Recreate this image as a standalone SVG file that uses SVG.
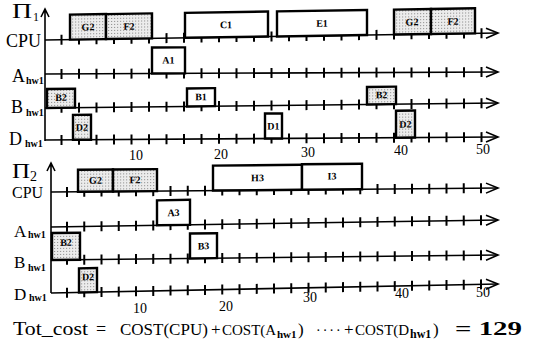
<svg xmlns="http://www.w3.org/2000/svg" xmlns:xlink="http://www.w3.org/1999/xlink" width="541" height="343" viewBox="0 0 541 343">
<style>
.ax{fill:none;stroke:#000;stroke-width:1.6}
.tk{fill:none;stroke:#000;stroke-width:2}
.bx{stroke:#000;stroke-width:2.4}
.w{fill:#fff}
.g{fill:url(#dots)}
.tl{font-family:"Liberation Serif",serif;font-size:10px;font-weight:bold;text-anchor:middle;fill:#000}
.lb{font-family:"Liberation Serif",serif;fill:#000}
.num{font-family:"Liberation Serif",serif;font-size:14px;text-anchor:middle;fill:#000}
.sub{font-family:"Liberation Serif",serif;font-size:10px;font-weight:bold;fill:#000}
</style>
<defs>
<pattern id="dots" width="3" height="3" patternUnits="userSpaceOnUse"><rect width="3" height="3" fill="#ececec"/><rect width="1" height="1" fill="#888"/></pattern>
<path id="t1" d="M61.5 -5v10M79 -5v10M96.5 -5v10M114 -5v10M131.5 -5v10M149 -5v10M166.5 -5v10M184 -5v10M201.5 -5v10M219 -5v10M236.5 -5v10M254 -5v10M271.5 -5v10M289 -5v10M306.5 -5v10M324 -5v10M341.5 -5v10M359 -5v10M376.5 -5v10M394 -5v10M411.5 -5v10M429 -5v10M446.5 -5v10M464 -5v10M481.5 -5v10"/>
<path id="t2" d="M67 -5v10M84.25 -5v10M101.5 -5v10M118.75 -5v10M136 -5v10M153.25 -5v10M170.5 -5v10M187.75 -5v10M205 -5v10M222.25 -5v10M239.5 -5v10M256.75 -5v10M274 -5v10M291.25 -5v10M308.5 -5v10M325.75 -5v10M343 -5v10M360.25 -5v10M377.5 -5v10M394.75 -5v10M412 -5v10M429.25 -5v10M446.5 -5v10M463.75 -5v10M481 -5v10"/>
<path id="ar" d="M486 -5L498 0L486 5"/>
</defs>
<rect width="541" height="343" fill="#fff"/>

<g id="axes">
<path class="ax" d="M45 141V9M41 17L45 9L49 17"/>
<path class="ax" d="M51 293V163M47 171L51 163L55 171"/>
<g transform="matrix(1 -0.0155 0 1 0 40.7)"><path class="ax" d="M45 0H498"/><use xlink:href="#t1" class="tk"/><use xlink:href="#ar" class="ax"/></g>
<g transform="matrix(1 -0.0044 0 1 0 74.2)"><path class="ax" d="M45 0H498"/><use xlink:href="#t1" class="tk"/><use xlink:href="#ar" class="ax"/></g>
<g transform="matrix(1 -0.011 0 1 0 108.5)"><path class="ax" d="M45 0H498"/><use xlink:href="#t1" class="tk"/><use xlink:href="#ar" class="ax"/></g>
<g transform="matrix(1 -0.0066 0 1 0 140.3)"><path class="ax" d="M45 0H498"/><use xlink:href="#t1" class="tk"/><use xlink:href="#ar" class="ax"/></g>
<g transform="matrix(1 -0.009 0 1 0 192.5)"><path class="ax" d="M51 0H498"/><use xlink:href="#t2" class="tk"/><use xlink:href="#ar" class="ax"/></g>
<g transform="matrix(1 -0.0157 0 1 0 227.8)"><path class="ax" d="M51 0H498"/><use xlink:href="#t2" class="tk"/><use xlink:href="#ar" class="ax"/></g>
<g transform="matrix(1 -0.0112 0 1 0 260.6)"><path class="ax" d="M51 0H498"/><use xlink:href="#t2" class="tk"/><use xlink:href="#ar" class="ax"/></g>
<g transform="matrix(1 -0.02 0 1 0 294)"><path class="ax" d="M51 0H498"/><use xlink:href="#t2" class="tk"/><use xlink:href="#ar" class="ax"/></g>
</g>

<g id="labels">
<text class="lb" x="12" y="18" font-size="20" textLength="20" lengthAdjust="spacingAndGlyphs">Π</text><text class="lb" x="33" y="21" font-size="12">1</text>
<text class="lb" x="6" y="47" font-size="18">CPU</text>
<text class="lb" x="12" y="82" font-size="18">A</text><text class="sub" x="26" y="84">hw1</text>
<text class="lb" x="11" y="113" font-size="18">B</text><text class="sub" x="26" y="116">hw1</text>
<text class="lb" x="9" y="145" font-size="18">D</text><text class="sub" x="25" y="147">hw1</text>
<text class="num" x="136" y="160">10</text><text class="num" x="221" y="159">20</text><text class="num" x="308" y="157">30</text><text class="num" x="401" y="155">40</text><text class="num" x="483" y="154">50</text>
<text class="lb" x="12" y="178" font-size="20" textLength="18" lengthAdjust="spacingAndGlyphs">Π</text><text class="lb" x="30" y="181" font-size="14">2</text>
<text class="lb" x="12" y="198" font-size="16">CPU</text>
<text class="lb" x="14" y="237" font-size="17">A</text><text class="sub" x="28" y="238">hw1</text>
<text class="lb" x="14" y="268" font-size="17">B</text><text class="sub" x="28" y="271">hw1</text>
<text class="lb" x="14" y="300" font-size="17">D</text><text class="sub" x="29" y="301">hw1</text>
<text class="num" x="140" y="313">10</text><text class="num" x="226" y="311">20</text><text class="num" x="310" y="302">30</text><text class="num" x="402" y="298">40</text><text class="num" x="483" y="297">50</text>
</g>

<g id="p1-cpu" transform="matrix(1 -0.0155 0 1 0 40.7)">
<g id="p1-G2a"><rect class="bx g" x="70" y="-25" width="36" height="25"/><text class="tl" x="88" y="-9">G2</text></g>
<g id="p1-F2a"><rect class="bx g" x="106" y="-25" width="46" height="25"/><text class="tl" x="129" y="-9">F2</text></g>
<g id="p1-C1"><rect class="bx w" x="185" y="-25" width="83" height="25"/><text class="tl" x="226" y="-9">C1</text></g>
<g id="p1-E1"><rect class="bx w" x="277" y="-25" width="90" height="25"/><text class="tl" x="322" y="-9">E1</text></g>
<g id="p1-G2b"><rect class="bx g" x="394" y="-25" width="37" height="25"/><text class="tl" x="412" y="-9">G2</text></g>
<g id="p1-F2b"><rect class="bx g" x="431" y="-25" width="44" height="25"/><text class="tl" x="453" y="-9">F2</text></g>
</g>
<g id="p1-ahw" transform="matrix(1 -0.0044 0 1 0 74.2)">
<g id="p1-A1"><rect class="bx w" x="152" y="-26" width="33" height="26"/><text class="tl" x="168.5" y="-10">A1</text></g>
</g>
<g id="p1-bhw" transform="matrix(1 -0.011 0 1 0 108.5)">
<g id="p1-B2a"><rect class="bx g" x="47" y="-19" width="28" height="19"/><text class="tl" x="61" y="-7">B2</text></g>
<g id="p1-B1"><rect class="bx w" x="187" y="-18" width="28" height="18"/><text class="tl" x="201" y="-6">B1</text></g>
<g id="p1-B2b"><rect class="bx g" x="367" y="-17.5" width="29" height="17.5"/><text class="tl" x="381.5" y="-6">B2</text></g>
</g>
<g id="p1-dhw" transform="matrix(1 -0.0066 0 1 0 140.3)">
<g id="p1-D2a"><rect class="bx g" x="73" y="-25" width="18" height="25"/><text class="tl" x="82" y="-9">D2</text></g>
<g id="p1-D1"><rect class="bx w" x="265" y="-25" width="17" height="25"/><text class="tl" x="273.5" y="-9">D1</text></g>
<g id="p1-D2b"><rect class="bx g" x="396" y="-27" width="19" height="27"/><text class="tl" x="405.5" y="-10">D2</text></g>
</g>

<g id="p2-cpu" transform="matrix(1 -0.009 0 1 0 192.5)">
<g id="p2-G2"><rect class="bx g" x="78" y="-22" width="35" height="22"/><text class="tl" x="95.5" y="-8">G2</text></g>
<g id="p2-F2"><rect class="bx g" x="113" y="-22" width="44" height="22"/><text class="tl" x="135" y="-8">F2</text></g>
<g id="p2-H3"><rect class="bx w" x="213" y="-25" width="89" height="25"/><text class="tl" x="257.5" y="-9">H3</text></g>
<g id="p2-I3"><rect class="bx w" x="302" y="-25.5" width="60" height="25.5"/><text class="tl" x="332" y="-10">I3</text></g>
</g>
<g id="p2-ahw" transform="matrix(1 -0.0157 0 1 0 227.8)">
<g id="p2-A3"><rect class="bx w" x="157" y="-25" width="33" height="25"/><text class="tl" x="173.5" y="-9">A3</text></g>
</g>
<g id="p2-bhw" transform="matrix(1 -0.0112 0 1 0 260.6)">
<g id="p2-B2"><rect class="bx g" x="52" y="-27" width="28" height="27"/><text class="tl" x="66" y="-14">B2</text></g>
<g id="p2-B3"><rect class="bx w" x="190" y="-25" width="27" height="25"/><text class="tl" x="203.5" y="-9">B3</text></g>
</g>
<g id="p2-dhw" transform="matrix(1 -0.02 0 1 0 294)">
<g id="p2-D2"><rect class="bx g" x="79" y="-24" width="18" height="24"/><text class="tl" x="88" y="-12">D2</text></g>
</g>

<g id="cost">
<text class="lb" font-size="17" y="335"><tspan x="13" font-size="18" textLength="75" lengthAdjust="spacingAndGlyphs">Tot_cost</tspan><tspan x="96" font-size="18">=</tspan><tspan x="120">COST(CPU)</tspan><tspan x="211">+</tspan><tspan x="222" font-size="15">COST(A</tspan><tspan x="277" y="338" font-size="11" font-weight="bold">hw1</tspan><tspan x="298" y="335">)</tspan><tspan x="316" font-size="14" letter-spacing="2">····</tspan><tspan x="344">+</tspan><tspan x="355" font-size="15">COST(D</tspan><tspan x="410" y="338" font-size="12" font-weight="bold">hw1</tspan><tspan x="433" y="335">)</tspan><tspan x="455" font-size="18" font-weight="bold" textLength="67" lengthAdjust="spacingAndGlyphs">= 129</tspan></text>
</g>
</svg>
